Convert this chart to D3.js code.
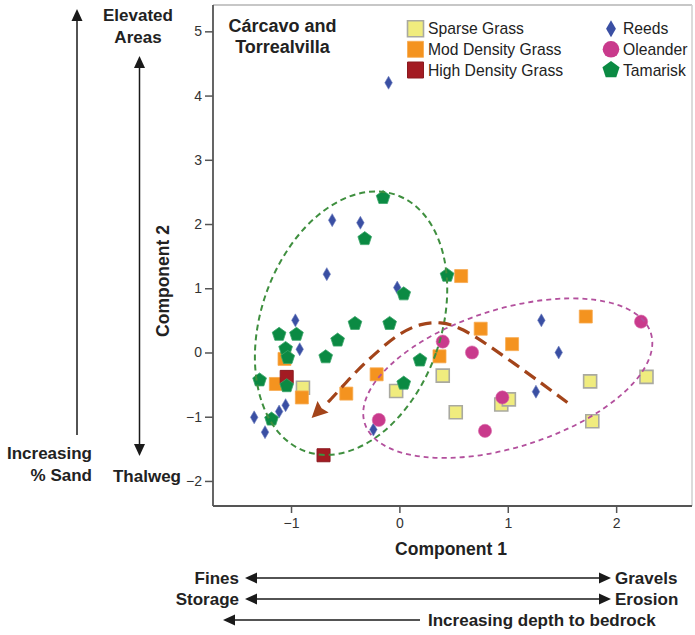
<!DOCTYPE html>
<html><head><meta charset="utf-8">
<script src="https://cdn.jsdelivr.net/npm/d3@7"></script>
<style>
body{margin:0;background:#fff;}
svg{display:block;font-family:"Liberation Sans",Arial,sans-serif;}
</style></head><body>
<svg id="c" width="695" height="635"></svg>
<script>
// ---------- data (Component 1, Component 2) ----------
const sparseGrass = [[0.40,-0.36],[-0.03,-0.60],[0.52,-0.93],[0.94,-0.81],[1.01,-0.73],[1.76,-0.45],[1.78,-1.07],[2.28,-0.38],[-0.89,-0.55]];
const modGrass = [[0.57,1.19],[0.75,0.37],[1.04,0.13],[1.72,0.56],[0.37,-0.06],[-0.21,-0.34],[-0.49,-0.64],[-0.90,-0.70],[-1.14,-0.49],[-1.06,-0.10]];
const highGrass = [[-1.04,-0.38],[-0.70,-1.60]];
const reeds = [[-0.10,4.20],[-0.62,2.06],[-0.36,2.02],[-0.67,1.22],[-0.02,1.01],[-0.96,0.50],[-0.92,0.05],[1.31,0.50],[1.47,0.00],[1.26,-0.61],[-1.05,-0.82],[-1.11,-0.92],[-1.34,-1.01],[-1.24,-1.24],[-0.24,-1.20]];
const oleander = [[0.40,0.17],[0.67,0.00],[0.95,-0.70],[0.79,-1.22],[-0.19,-1.05],[2.23,0.48]];
const tamarisk = [[-0.15,2.41],[-0.32,1.77],[0.44,1.20],[0.04,0.91],[-0.41,0.45],[-0.09,0.45],[-0.57,0.19],[-0.68,-0.07],[-1.11,0.28],[-0.95,0.28],[-1.05,0.06],[-1.03,-0.08],[-1.04,-0.52],[-1.29,-0.43],[-1.18,-1.04],[0.19,-0.12],[0.04,-0.48]];
const xTicks = [-1,0,1,2];
const yTicks = [-2,-1,0,1,2,3,4,5];
const trendPath = [[1.55,-0.78],[0.59,0.35],[0.38,0.46],[0.19,0.43],[-0.01,0.27],[-0.25,-0.06],[-0.41,-0.32],[-0.64,-0.74],[-0.81,-1.02]];
const legendGrass = ["Sparse Grass","Mod Density Grass","High Density Grass"];
const legendShrub = ["Reeds","Oleander","Tamarisk"];

// ---------- setup ----------
const svg = d3.select("#c");
const L=213,R=692,T=5,B=506;
const x = d3.scaleLinear().domain([-1.72,2.70]).range([L,R]);
const y = d3.scaleLinear().domain([-2.39,5.41]).range([B,T]);
const ink="#1a1a1a";

// frame
svg.append("line").attr("x1",L).attr("x2",R).attr("y1",T).attr("y2",T).attr("stroke","#b5b5b5").attr("stroke-width",1.5);
svg.append("line").attr("x1",R).attr("x2",R).attr("y1",T).attr("y2",B).attr("stroke","#cfcfcf").attr("stroke-width",1.5);
svg.append("line").attr("x1",L).attr("x2",L).attr("y1",T).attr("y2",B).attr("stroke","#555").attr("stroke-width",1.8);
svg.append("line").attr("x1",L).attr("x2",R).attr("y1",B).attr("y2",B).attr("stroke","#555").attr("stroke-width",1.8);

// axes
const ya = svg.append("g").attr("transform",`translate(${L},0)`)
  .call(d3.axisLeft(y).tickValues(yTicks).tickSize(8).tickPadding(3).tickFormat(d3.format("d")));
const xa = svg.append("g").attr("transform",`translate(0,${B})`)
  .call(d3.axisBottom(x).tickValues(xTicks).tickSize(7).tickPadding(5).tickFormat(d3.format("d")));
[ya,xa].forEach(g=>{
  g.select(".domain").remove();
  g.selectAll(".tick line").attr("stroke","#555").attr("stroke-width",1.5);
  g.selectAll(".tick text").attr("fill","#333").style("font-size","14px").style("font-family","'Liberation Sans',Arial,sans-serif");
});

// symbols
const pentagon = r => {
  const pts=d3.range(5).map(i=>{const a=-Math.PI/2+i*2*Math.PI/5;return [r*Math.cos(a),r*Math.sin(a)];});
  return "M"+pts.map(p=>p.join(",")).join("L")+"Z";
};
const sq = s => d3.symbol(d3.symbolSquare, s*s)();
const circ = r => d3.symbol(d3.symbolCircle, Math.PI*r*r)();
const diam = h => d3.symbol(d3.symbolDiamond, (h/2)*(h/2)*2*Math.tan(Math.PI/6))();

const styles = {
  sparse:{path:sq(13), fill:"#f0ec7e", stroke:"#a9a9a0", sw:1.6},
  mod:{path:sq(13), fill:"#f4931f", stroke:"#f7a94f", sw:0.8},
  high:{path:sq(13), fill:"#a31b22", stroke:"#8a1a1f", sw:1},
  reeds:{path:diam(13), fill:"#3a4fa3", stroke:"#6f7fc0", sw:0.6},
  ole:{path:circ(6.6), fill:"#c93a8c", stroke:"#d86aaa", sw:0.6},
  tam:{path:pentagon(7.2), fill:"#0b8a43", stroke:"#3aa468", sw:0.8}
};
function drawSet(data, st){
  svg.append("g").selectAll("path").data(data).join("path")
    .attr("d",st.path).attr("transform",d=>`translate(${x(d[0])},${y(d[1])})`)
    .attr("fill",st.fill).attr("stroke",st.stroke).attr("stroke-width",st.sw);
}
drawSet(sparseGrass,styles.sparse);
drawSet(modGrass,styles.mod);
drawSet(highGrass,styles.high);
drawSet(reeds,styles.reeds);
drawSet(oleander,styles.ole);
drawSet(tamarisk,styles.tam);

// ellipses (annotations)
svg.append("ellipse").attr("transform",`translate(${x(-0.446)},${y(0.456)}) rotate(19.4)`)
  .attr("rx",90).attr("ry",136).attr("fill","none").attr("stroke","#3f8f3f").attr("stroke-width",2).attr("stroke-dasharray","6,4");
svg.append("ellipse").attr("transform",`translate(${x(1.0)},${y(-0.40)}) rotate(-17.5)`)
  .attr("rx",150).attr("ry",69).attr("fill","none").attr("stroke","#b3509d").attr("stroke-width",1.8).attr("stroke-dasharray","5,4");

// trend arrow
(function(){
  const pts = trendPath.map(d=>[x(d[0]),y(d[1])]);
  const tip = pts[pts.length-1], prev = pts[pts.length-2];
  const ang = Math.atan2(tip[1]-prev[1], tip[0]-prev[0]);
  const len=16, hw=8;
  const base=[tip[0]-len*Math.cos(ang), tip[1]-len*Math.sin(ang)];
  const linePts = pts.slice(0,-1).concat([base]);
  svg.append("path").attr("d",d3.line().curve(d3.curveCatmullRom.alpha(0.5))(linePts))
    .attr("fill","none").attr("stroke","#a3441a").attr("stroke-width",3.2).attr("stroke-dasharray","13,7");
  const nx=-Math.sin(ang), ny=Math.cos(ang);
  const bb=[base[0]+2*Math.cos(ang),base[1]+2*Math.sin(ang)];
  svg.append("path").attr("d",`M${tip[0]},${tip[1]}L${base[0]+hw*nx},${base[1]+hw*ny}L${bb[0]},${bb[1]}L${base[0]-hw*nx},${base[1]-hw*ny}Z`)
    .attr("fill","#a3441a");
})();

// title
const title = svg.append("text").attr("text-anchor","middle").attr("fill","#222")
  .style("font-weight","bold").style("font-size","18px");
title.append("tspan").attr("x",282.5).attr("y",32).text("Cárcavo and");
title.append("tspan").attr("x",282.5).attr("y",53).text("Torrealvilla");

// legend
const lgY=[28.7,49.3,70];
const lg1=[styles.sparse,styles.mod,styles.high];
legendGrass.forEach((t,i)=>{
  const st=lg1[i];
  svg.append("path").attr("d",sq(16)).attr("transform",`translate(415.5,${lgY[i]})`)
    .attr("fill",st.fill).attr("stroke",st.stroke).attr("stroke-width",st.sw);
  svg.append("text").attr("x",428).attr("y",lgY[i]+5.5).attr("fill","#222").style("font-size","15.7px").text(t);
});
const lg2=[{path:diam(17),fill:styles.reeds.fill},{path:circ(8.3),fill:styles.ole.fill},{path:pentagon(9),fill:styles.tam.fill}];
legendShrub.forEach((t,i)=>{
  svg.append("path").attr("d",lg2[i].path).attr("transform",`translate(611,${lgY[i]})`).attr("fill",lg2[i].fill);
  svg.append("text").attr("x",623).attr("y",lgY[i]+5.5).attr("fill","#222").style("font-size","15.7px").text(t);
});

// axis titles
svg.append("text").attr("x",451).attr("y",555).attr("text-anchor","middle").attr("fill","#222")
  .style("font-weight","bold").style("font-size","17.5px").text("Component 1");
svg.append("text").attr("transform","translate(169,281) rotate(-90)").attr("text-anchor","middle").attr("fill","#222")
  .style("font-weight","bold").style("font-size","17.5px").text("Component 2");

// outer annotation arrows
function head(tx,ty,ang,len=12,hw=5.5){
  const bx=tx-len*Math.cos(ang), by=ty-len*Math.sin(ang);
  const nx=-Math.sin(ang), ny=Math.cos(ang);
  svg.append("path").attr("d",`M${tx},${ty}L${bx+hw*nx},${by+hw*ny}L${bx-hw*nx},${by-hw*ny}Z`).attr("fill",ink);
}
function seg(x1,y1,x2,y2){svg.append("line").attr("x1",x1).attr("y1",y1).attr("x2",x2).attr("y2",y2).attr("stroke",ink).attr("stroke-width",1.5);}
// left vertical arrow
seg(77,18,77,435); head(77,9,-Math.PI/2);
// second vertical double arrow
seg(139.5,64,139.5,448); head(139.5,56,-Math.PI/2); head(139.5,456,Math.PI/2);
// horizontal arrows
seg(252,578,604,578); head(245,578,Math.PI); head(611,578,0);
seg(252,599,604,599); head(245,599,Math.PI); head(611,599,0);
seg(231,620,420,620); head(223,620,Math.PI);

function btext(tx,ty,anchor,t){
  svg.append("text").attr("x",tx).attr("y",ty).attr("text-anchor",anchor).attr("fill","#222")
   .style("font-weight","bold").style("font-size","17px").text(t);
}
btext(138,21,"middle","Elevated");
btext(138,43,"middle","Areas");
btext(147,482,"middle","Thalweg");
btext(92,459,"end","Increasing");
btext(92,481,"end","% Sand");
btext(239,584,"end","Fines");
btext(239,605,"end","Storage");
btext(615,584,"start","Gravels");
btext(615,605,"start","Erosion");
btext(428,626,"start","Increasing depth to bedrock");
</script></body></html>
